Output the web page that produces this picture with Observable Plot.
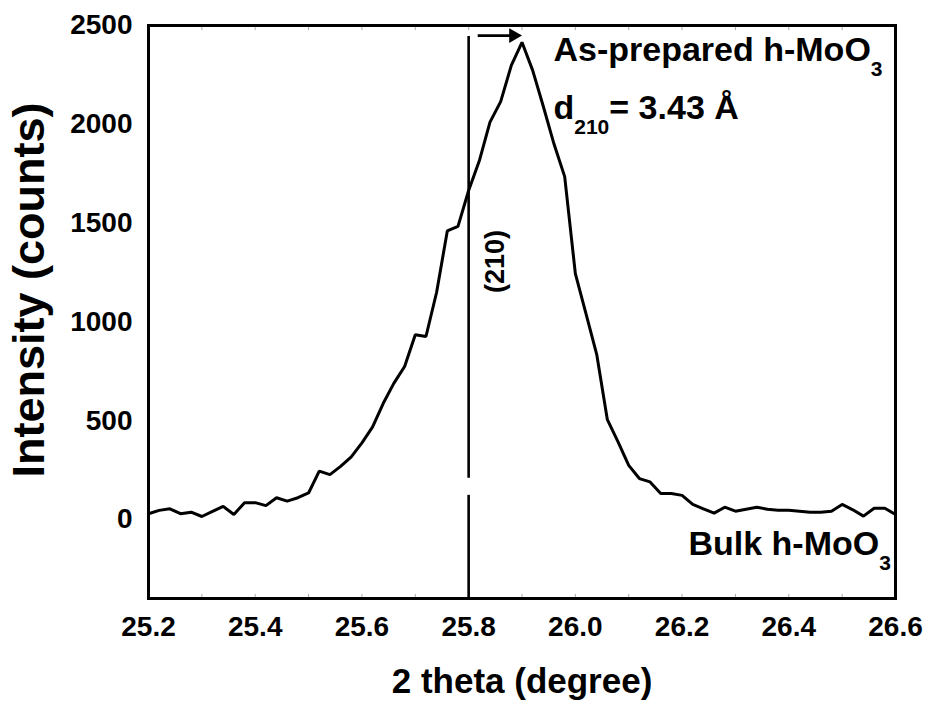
<!DOCTYPE html>
<html><head><meta charset="utf-8">
<script src="https://cdn.jsdelivr.net/npm/d3@7"></script>
<script src="https://cdn.jsdelivr.net/npm/@observablehq/plot@0.6"></script>
<style>body{margin:0;background:#fff} #chart svg{display:block}</style>
</head><body><div id="chart"></div>
<script>
// ---- data ----
const twoTheta = [25.20,25.22,25.24,25.26,25.28,25.30,25.32,25.34,25.36,25.38,
  25.40,25.42,25.44,25.46,25.48,25.50,25.52,25.54,25.56,25.58,
  25.60,25.62,25.64,25.66,25.68,25.70,25.72,25.74,25.76,25.78,
  25.80,25.82,25.84,25.86,25.88,25.90,25.92,25.94,25.96,25.98,
  26.00,26.02,26.04,26.06,26.08,26.10,26.12,26.14,26.16,26.18,
  26.20,26.22,26.24,26.26,26.28,26.30,26.32,26.34,26.36,26.38,
  26.40,26.42,26.44,26.46,26.48,26.50,26.52,26.54,26.56,26.58,26.60];
const intensity = [29,46,54,29,37,15,41,66,25,85,
  85,70,110,93,110,134,245,227,269,317,
  388,469,588,690,774,935,926,1150,1460,1483,
  1665,1815,2011,2115,2298,2415,2273,2090,1900,1735,
  1244,1040,836,505,393,274,207,190,131,131,
  122,76,54,32,62,42,52,62,52,47,
  47,42,37,37,42,76,49,17,57,57,25];
const xTicks = [25.2,25.4,25.6,25.8,26.0,26.2,26.4,26.6];
const xMinorTicks = [25.2,25.3,25.4,25.5,25.6,25.7,25.8,25.9,26.0,26.1,26.2,26.3,26.4,26.5,26.6];
const yTicks = [0,500,1000,1500,2000,2500];
const xDomain = [25.2, 26.6];
const yDomain = [-400, 2500];
const xTitle = "2 theta (degree)";
const yTitle = "Intensity (counts)";
// reference line of the bulk (210) reflection, drawn in two pieces
const refX = 25.8;
const refLowSpan = [-400, 122];
const refHighSpan = [208, 2444];
// shift arrow
const arrowX = [25.817, 25.878];
const arrowY = 2449;
const arrowHeadX = 25.884;
// annotation labels
const annLabels = ["As-prepared h-MoO3", "d210= 3.43 Å", "Bulk h-MoO3"];
const annX = [25.959, 25.959, 26.212];
const annY = [2373, 2083, -127];
const hklLabel = "(210)";
const hklX = 25.85, hklY = 1306;
// subscript splitting of the labels
const subParts = {
  "As-prepared h-MoO3": [["As-prepared h-MoO", 0], ["3", 1]],
  "d210= 3.43 Å": [["d", 0], ["210", 1], ["= 3.43 Å", 0]],
  "Bulk h-MoO3": [["Bulk h-MoO", 0], ["3", 1]]
};

const rows = twoTheta.map((x, i) => ({x, y: intensity[i]}));
const FONT = "'Liberation Sans', Arial, Helvetica, sans-serif";

const chart = Plot.plot({
  width: 925, height: 706,
  marginLeft: 148, marginRight: 30, marginTop: 25, marginBottom: 108,
  x: {domain: xDomain},
  y: {domain: yDomain},
  style: {fontFamily: FONT, fontWeight: "bold", fontSize: "28px", color: "#000", background: "#fff", overflow: "visible"},
  marks: [
    Plot.axisX({anchor: "bottom", ticks: xMinorTicks, tickSize: -4, text: null, stroke: "#aaa", label: null}),
    Plot.axisX({anchor: "top", ticks: xMinorTicks, tickSize: -4, text: null, stroke: "#aaa", label: null}),
    Plot.axisX({anchor: "bottom", ticks: xTicks, tickSize: 0, tickPadding: 18, fontSize: 28, fontWeight: "bold",
      tickFormat: d => d.toFixed(1), label: null}),
    Plot.axisY({anchor: "left", ticks: yTicks, tickSize: 0, tickPadding: 16, fontSize: 28, fontWeight: "bold",
      tickFormat: d3.format("d"), label: null}),
    Plot.ruleX([refX], {y1: refLowSpan[0], y2: refLowSpan[1], stroke: "#000", strokeWidth: 2.6}),
    Plot.ruleX([refX], {y1: refHighSpan[0], y2: refHighSpan[1], stroke: "#000", strokeWidth: 2.6}),
    Plot.line(rows, {x: "x", y: "y", stroke: "#000", strokeWidth: 3, strokeLinejoin: "miter"}),
    Plot.link([0], {x1: arrowX[0], x2: arrowX[1], y1: arrowY, y2: arrowY, stroke: "#000", strokeWidth: 2.6}),
    Plot.dot([0], {x: arrowHeadX, y: arrowY, symbol: "triangle", r: 5.5, rotate: 90, fill: "#000", stroke: "none"}),
    Plot.frame({stroke: "#000", strokeWidth: 3}),
    Plot.text(annLabels, {x: (d, i) => annX[i], y: (d, i) => annY[i], text: d => d,
      textAnchor: "start", lineAnchor: "middle", fontSize: 34, fontWeight: "bold", fill: "#000"}),
    Plot.text([hklLabel], {x: hklX, y: hklY, text: d => d, rotate: -90, textAnchor: "middle", lineAnchor: "middle",
      fontSize: 27, fontWeight: "bold", fill: "#000"}),
    Plot.text([xTitle], {frameAnchor: "bottom", dy: 83, text: d => d, textAnchor: "middle", lineAnchor: "middle",
      fontSize: 35, fontWeight: "bold", fill: "#000"}),
    Plot.text([yTitle], {frameAnchor: "left", dx: -119, dy: -22, text: d => d, rotate: -90, textAnchor: "middle",
      lineAnchor: "middle", fontSize: 45, fontWeight: "bold", fill: "#000"})
  ]
});

// make sure the tick labels carry the intended size
d3.select(chart).selectAll('g[aria-label="x-axis tick label"], g[aria-label="y-axis tick label"]')
  .attr("font-size", 28).style("font-size", "28px").attr("font-weight", "bold");

// subscripts
d3.select(chart).selectAll("text").each(function() {
  const parts = subParts[this.textContent];
  if (!parts) return;
  const t = d3.select(this);
  t.text(null);
  let prevSub = 0;
  parts.forEach(([s, sub]) => {
    const ts = t.append("tspan").text(s);
    if (sub) ts.attr("font-size", 21).attr("dy", prevSub ? 0 : 15);
    else if (prevSub) ts.attr("dy", -15);
    prevSub = sub;
  });
});

document.getElementById("chart").append(chart);
</script>
</body></html>
